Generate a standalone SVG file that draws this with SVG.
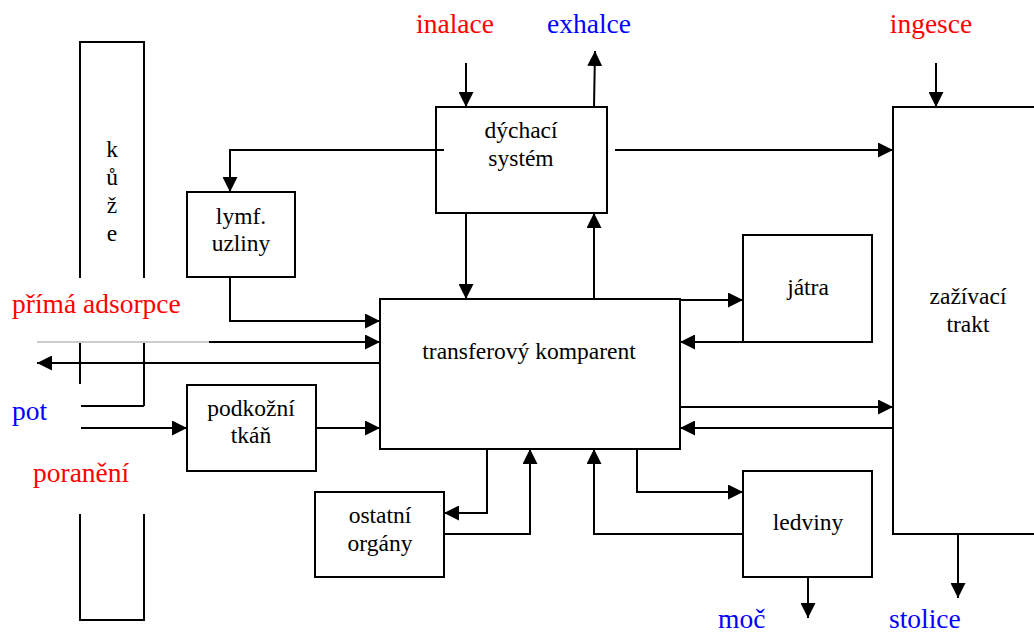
<svg xmlns="http://www.w3.org/2000/svg" width="1034" height="635" viewBox="0 0 1034 635">
<style>
.box{fill:#fff;stroke:#000;stroke-width:2}
.skin{fill:none;stroke:#000;stroke-width:2}
.c{fill:none;stroke:#000;stroke-width:2}
.a{marker-end:url(#ah)}
.t{font-family:"Liberation Serif","Times New Roman",serif;font-size:23.5px;fill:#000;text-anchor:middle}
.lab{font-family:"Liberation Serif","Times New Roman",serif;font-size:27.5px}
.red{fill:#ff0000}
.blue{fill:#0000ff}
</style>
<defs>
<marker id="ah" markerUnits="userSpaceOnUse" markerWidth="15" markerHeight="15" refX="15" refY="7.5" orient="auto">
<path d="M0,0 L15,7.5 L0,15 z" fill="#000"/>
</marker>
</defs>
<rect width="1034" height="635" fill="#fff"/>

<g id="kuze">
<path class="skin" d="M80,278 V42 H144 V278"/>
<path class="skin" d="M80,343 V384 M144,343 V406 M81,406 H144"/>
<path class="skin" d="M80,514 V620 H144 V514"/>
<text class="t" x="112" y="157">k</text>
<text class="t" x="112" y="185">ů</text>
<text class="t" x="112" y="213">ž</text>
<text class="t" x="112" y="241">e</text>
</g>

<g id="dychaci">
<rect class="box" x="436" y="107" width="171" height="106"/>
<text class="t" x="521" y="138">dýchací</text>
<text class="t" x="521" y="166">systém</text>
</g>

<g id="lymf">
<rect class="box" x="187" y="192" width="108" height="85"/>
<text class="t" x="241" y="224">lymf.</text>
<text class="t" x="241" y="251">uzliny</text>
</g>

<g id="transfer">
<rect class="box" x="380" y="299" width="300" height="150"/>
<text class="t" x="529" y="359">transferový komparent</text>
</g>

<g id="podkozni">
<rect class="box" x="187" y="385" width="129" height="86"/>
<text class="t" x="251" y="416">podkožní</text>
<text class="t" x="251" y="443">tkáň</text>
</g>

<g id="ostatni">
<rect class="box" x="315" y="492" width="129" height="85"/>
<text class="t" x="380" y="523">ostatní</text>
<text class="t" x="380" y="551">orgány</text>
</g>

<g id="jatra">
<rect class="box" x="743" y="235" width="129" height="107"/>
<text class="t" x="808" y="295">játra</text>
</g>

<g id="ledviny">
<rect class="box" x="743" y="471" width="129" height="106"/>
<text class="t" x="808" y="530">ledviny</text>
</g>

<g id="zazivaci">
<path class="box" d="M1040,107 H893 V534 H1040"/>
<text class="t" x="968" y="304">zažívací</text>
<text class="t" x="968" y="332">trakt</text>
</g>

<g id="connectors">
<path class="c a" d="M466,63 V107"/>
<path class="c a" d="M594,107 L595,51"/>
<path class="c a" d="M936,63 V107"/>
<path class="c a" d="M444,150 H230 V192"/>
<path class="c a" d="M615,150 H893"/>
<path class="c a" d="M466,213 V299"/>
<path class="c a" d="M594,299 V213"/>
<path class="c a" d="M230,277 V321 H380"/>
<path d="M37,342 H209" fill="none" stroke="#999" stroke-width="1"/>
<path class="c a" d="M209,342 H380"/>
<path class="c a" d="M380,363 H37"/>
<path class="c a" d="M81,428 H187"/>
<path class="c a" d="M316,428 H380"/>
<path class="c a" d="M680,300 H743"/>
<path class="c a" d="M743,342 H680"/>
<path class="c a" d="M680,407 H893"/>
<path class="c a" d="M893,428 H680"/>
<path class="c a" d="M487,449 V513 H444"/>
<path class="c a" d="M444,534 H530 V449"/>
<path class="c a" d="M743,534 H594 V449"/>
<path class="c a" d="M637,449 V492 H743"/>
<path class="c a" d="M808,577 V618"/>
<path class="c a" d="M958,534 V598"/>
</g>

<g id="labels">
<text class="lab red" x="455" y="33" text-anchor="middle">inalace</text>
<text class="lab blue" x="589" y="33" text-anchor="middle">exhalce</text>
<text class="lab red" x="931" y="33" text-anchor="middle">ingesce</text>
<text class="lab red" x="12" y="313">přímá adsorpce</text>
<text class="lab blue" x="12" y="420">pot</text>
<text class="lab red" x="33" y="482">poranění</text>
<text class="lab blue" x="718" y="628">moč</text>
<text class="lab blue" x="889" y="628">stolice</text>
</g>
</svg>
